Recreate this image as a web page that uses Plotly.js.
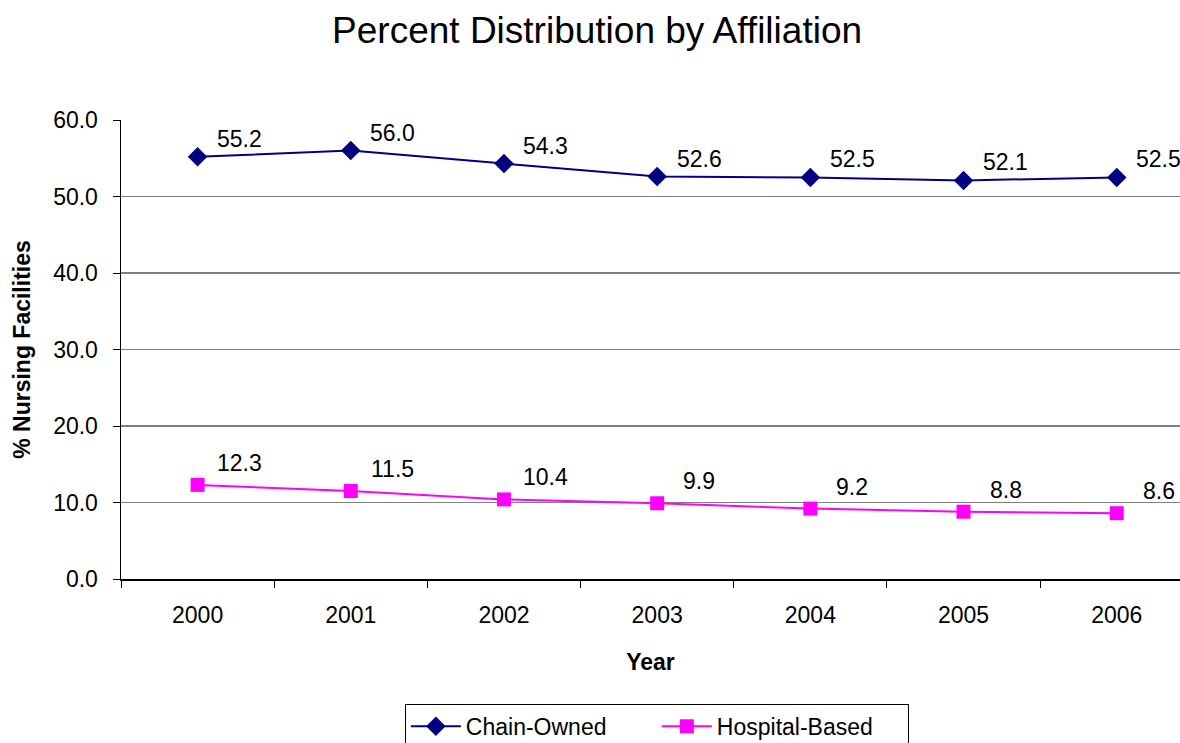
<!DOCTYPE html>
<html>
<head>
<meta charset="utf-8">
<script src="https://cdn.plot.ly/plotly-3.0.1.min.js"></script>
<style>html,body{margin:0;padding:0;background:#fff;overflow:hidden}</style>
</head>
<body>
<div id="chart" style="width:1180px;height:743px"></div>
<script>
const years = ["2000","2001","2002","2003","2004","2005","2006"];
const chainOwned = [55.2, 56.0, 54.3, 52.6, 52.5, 52.1, 52.5];
const hospitalBased = [12.3, 11.5, 10.4, 9.9, 9.2, 8.8, 8.6];

const FONT = "Liberation Sans, Arial, sans-serif";

const traces = [
  {x: years, y: chainOwned, name: "Chain-Owned", type: "scatter", mode: "lines+markers",
   line: {color: "#000080", width: 2}, marker: {symbol: "diamond", size: 15, color: "#000080"}},
  {x: years, y: hospitalBased, name: "Hospital-Based", type: "scatter", mode: "lines+markers",
   line: {color: "#FF00FF", width: 2}, marker: {symbol: "square", size: 14, color: "#FF00FF"}}
];

const annotations = [];
function addLabels(vals, yshift) {
  vals.forEach((v, i) => annotations.push({
    x: i, y: v, xref: "x", yref: "y", text: v.toFixed(1), showarrow: false,
    xshift: 42, yshift: yshift, font: {family: FONT, size: 23, color: "#000"}
  }));
}
addLabels(chainOwned, 18);
addLabels(hospitalBased, 22);

const layout = {
  width: 1180, height: 743,
  margin: {l: 121, r: 0, t: 120, b: 164, autoexpand: false},
  paper_bgcolor: "#fff", plot_bgcolor: "#fff",
  font: {family: FONT, size: 23, color: "#000"},
  title: {text: "Percent Distribution by Affiliation", x: 0.506, xanchor: "center", y: 0.96, yanchor: "middle",
          font: {family: FONT, size: 37, color: "#000"}},
  xaxis: {type: "category", range: [-0.5, 6.413], tickson: "boundaries", ticks: "outside", ticklen: 7,
          tickcolor: "#000", showline: true, linecolor: "#000", linewidth: 1.5, showgrid: false,
          tickfont: {family: FONT, size: 23}, ticklabelstandoff: 15,
          title: {text: "<b>Year</b>", font: {family: FONT, size: 23}, standoff: 27}},
  yaxis: {range: [0, 60], dtick: 10, tickformat: ".1f", ticks: "outside", ticklen: 7, tickcolor: "#000",
          showline: true, linecolor: "#000", linewidth: 1.5, showgrid: true, gridcolor: "#808080", gridwidth: 1.3,
          zeroline: false, tickfont: {family: FONT, size: 23}, ticklabelstandoff: 10,
          title: {text: "<b>% Nursing Facilities</b>", font: {family: FONT, size: 23}, standoff: 16}},
  showlegend: true,
  legend: {orientation: "h", x: 0.506, xanchor: "center", y: -0.272, yanchor: "top",
           bordercolor: "#000", borderwidth: 1, font: {family: FONT, size: 23}, bgcolor: "#fff",
           entrywidth: 186, itemwidth: 50},
  annotations: annotations
};

Plotly.newPlot("chart", traces, layout, {staticPlot: true, displayModeBar: false});
</script>
</body>
</html>
